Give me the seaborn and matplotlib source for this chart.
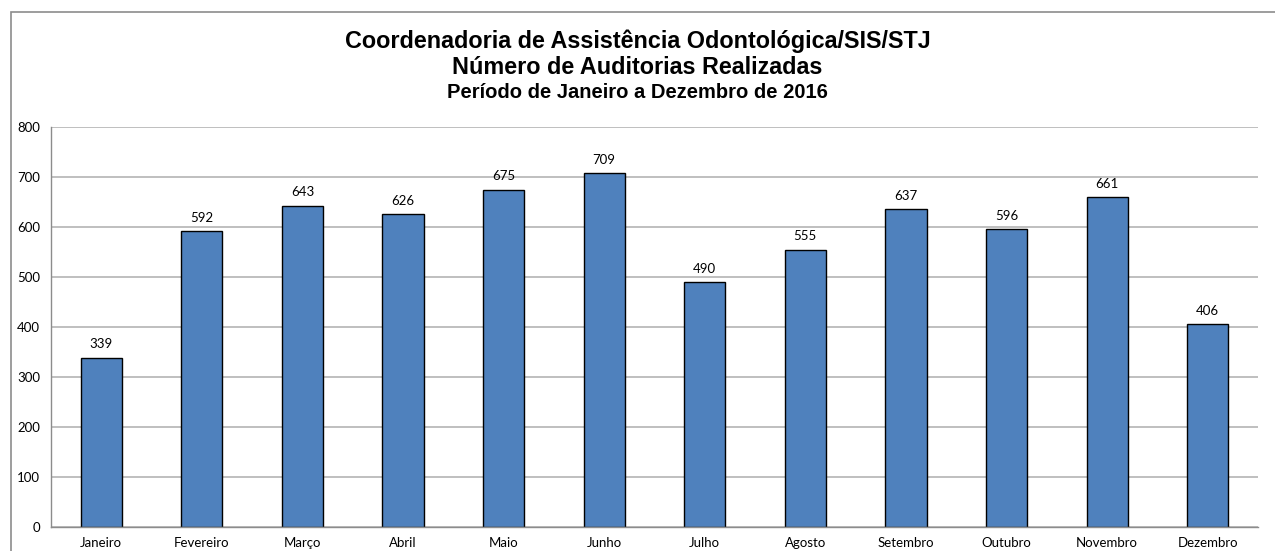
import numpy as np
import pandas as pd
import matplotlib.pyplot as plt
import seaborn as sns
from matplotlib.patches import Rectangle

# data
meses = ["Janeiro", "Fevereiro", "Março", "Abril", "Maio", "Junho",
         "Julho", "Agosto", "Setembro", "Outubro", "Novembro", "Dezembro"]
auditorias = [339, 592, 643, 626, 675, 709, 490, 555, 637, 596, 661, 406]

titulo_1 = "Coordenadoria de Assistência Odontológica/SIS/STJ"
titulo_2 = "Número de Auditorias Realizadas"
titulo_3 = "Período de Janeiro a Dezembro de 2016"

df = pd.DataFrame({"mes": meses, "n": auditorias})

sns.set_style("white")
plt.rcParams['font.family'] = ['Lato', 'DejaVu Sans']
plt.rcParams['text.color'] = 'black'
plt.rcParams['xtick.color'] = 'black'
plt.rcParams['ytick.color'] = 'black'

fig = plt.figure(figsize=(12.75, 5.51), dpi=100)
ax = fig.add_axes([51 / 1275, 24 / 551, 1207 / 1275, 400 / 551])

sns.barplot(data=df, x="mes", y="n", ax=ax, color="#4F81BD", saturation=1,
            width=0.41, edgecolor="black", linewidth=1)

# value labels above bars
for i, v in enumerate(auditorias):
    ax.text(i, v + 14, f"{v}", ha="center", va="bottom", fontsize=9.5,
            color="black")

ax.set_ylim(0, 800)
ax.set_xlim(-0.5, len(meses) - 0.5)
ax.set_yticks(range(0, 801, 100))
ax.yaxis.grid(True, color="#B4B4B4", linewidth=1.2)
ax.set_axisbelow(True)
ax.set_xlabel("")
ax.set_ylabel("")

# spines: only left and bottom, gray
for s in ["top", "right"]:
    ax.spines[s].set_visible(False)
for s in ["left", "bottom"]:
    ax.spines[s].set_color("#8C8C8C")
    ax.spines[s].set_linewidth(1)

# category labels without ticks, tick marks at category boundaries
ax.tick_params(axis="x", which="major", length=0, labelsize=9.5, pad=7,
               labelcolor="black")
ax.set_xticks(np.arange(-0.5, len(meses), 1), minor=True)
ax.tick_params(axis="x", which="minor", length=5, color="#8C8C8C", direction="out")
ax.tick_params(axis="y", length=5, color="#8C8C8C", labelsize=9.5, pad=3,
               labelcolor="black")

# titles
fig.text(0.5, 1 - 41 / 551, titulo_1, ha="center", va="center", color="black",
         fontsize=16.8, fontweight="bold", family="Liberation Sans")
fig.text(0.5, 1 - 68 / 551, titulo_2, ha="center", va="center", color="black",
         fontsize=16.8, fontweight="bold", family="Liberation Sans")
fig.text(0.5, 1 - 92 / 551, titulo_3, ha="center", va="center", color="black",
         fontsize=14.5, fontweight="bold", family="Liberation Sans")

# outer chart frame
fig.patches.append(Rectangle((11 / 1275, -0.05), 1.0, 1 - 12 / 551 + 0.05,
                             transform=fig.transFigure, fill=False,
                             edgecolor="#8C8C8C", linewidth=1.2))

fig.savefig("out.png", dpi=100)
plt.close(fig)
